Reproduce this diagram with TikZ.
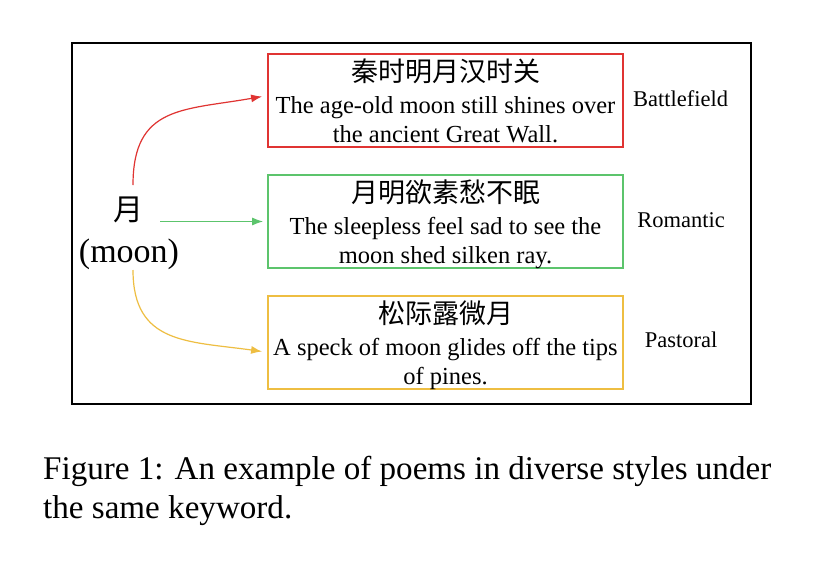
\documentclass[tikz,border=0pt]{standalone}
\usepackage{fontspec}
\setmainfont{Liberation Serif}
\newfontfamily\cjk{Noto Sans CJK SC}
\usetikzlibrary{arrows.meta}
\definecolor{cred}{RGB}{224,52,50}
\definecolor{cgreen}{RGB}{92,196,108}
\definecolor{cyellow}{RGB}{238,190,66}
\tikzset{
  poembox/.style={draw, line width=1.8pt, minimum width=355pt, minimum height=93pt, inner sep=0pt},
  entxt/.style={anchor=base, inner sep=0pt, font=\fontsize{24.5}{28}\selectfont},
  cntxt/.style={anchor=center, inner sep=0pt, font=\cjk\fontsize{27}{30}\selectfont},
  stylelab/.style={anchor=base, inner sep=0pt, font=\fontsize{22.5}{26}\selectfont},
  arr/.style={line width=1.2pt, -{Latex[length=11pt,width=8pt]}},
}
\begin{document}
\begin{tikzpicture}[x=1pt,y=-1pt]
\useasboundingbox (0,0) rectangle (816,562);
\fill[white] (0,0) rectangle (816,562);
% outer frame
\node[draw, line width=1.8pt, minimum width=679pt, minimum height=361pt, inner sep=0pt] (frame) at (411.5,223.5) {};

% keyword
\node[anchor=center, inner sep=0pt, font=\cjk\fontsize{30}{32}\selectfont] (yue) at (128,210) {月};
\node[anchor=base, inner sep=0pt, font=\fontsize{34}{36}\selectfont] (moonen) at (129,262) {(moon)};
\coordinate (rs) at (133,185);
\coordinate (gs) at (160,221.5);
\coordinate (ys) at (133,270);

% boxes
\node[poembox, draw=cred] (b1) at (445.5,100.5) {};
\node[poembox, draw=cgreen] (b2) at (445.5,221.5) {};
\node[poembox, draw=cyellow] (b3) at (445.5,342.5) {};

% box texts
\node[cntxt] (c1) at (445.5,71) {秦时明月汉时关};
\node[entxt] (e1a) at (445.5,113) {The age-old moon still shines over};
\node[entxt] (e1b) at (445.5,142) {the ancient Great Wall.};

\node[cntxt] (c2) at (445.5,192) {月明欲素愁不眠};
\node[entxt] (e2a) at (445.5,234) {The sleepless feel sad to see the};
\node[entxt] (e2b) at (445.5,263) {moon shed silken ray.};

\node[cntxt] (c3) at (445.5,313) {松际露微月};
\node[entxt] (e3a) at (445.5,355) {A speck of moon glides off the tips};
\node[entxt] (e3b) at (445.5,384) {of pines.};

% style labels
\node[stylelab] (l1) at (680.5,106) {Battlefield};
\node[stylelab] (l2) at (681,227) {Romantic};
\node[stylelab] (l3) at (681,347) {Pastoral};

% arrows
\draw[arr, cred] (rs) to[out=90, in=190, looseness=1.3] ([xshift=-5pt,yshift=4pt]b1.west);
\draw[arr, cgreen] (gs) -- ([xshift=-4pt]b2.west);
\draw[arr, cyellow] (ys) to[out=-90, in=172, looseness=1.25] ([xshift=-5pt,yshift=-9pt]b3.west);

% caption
\node[anchor=base west, inner sep=0pt, font=\fontsize{33.1}{40}\selectfont] (cap1) at (43,479) {Figure 1: An example of poems in diverse styles under};
\node[anchor=base west, inner sep=0pt, font=\fontsize{33.1}{40}\selectfont] (cap2) at (43,518) {the same keyword.};
\end{tikzpicture}
\end{document}
